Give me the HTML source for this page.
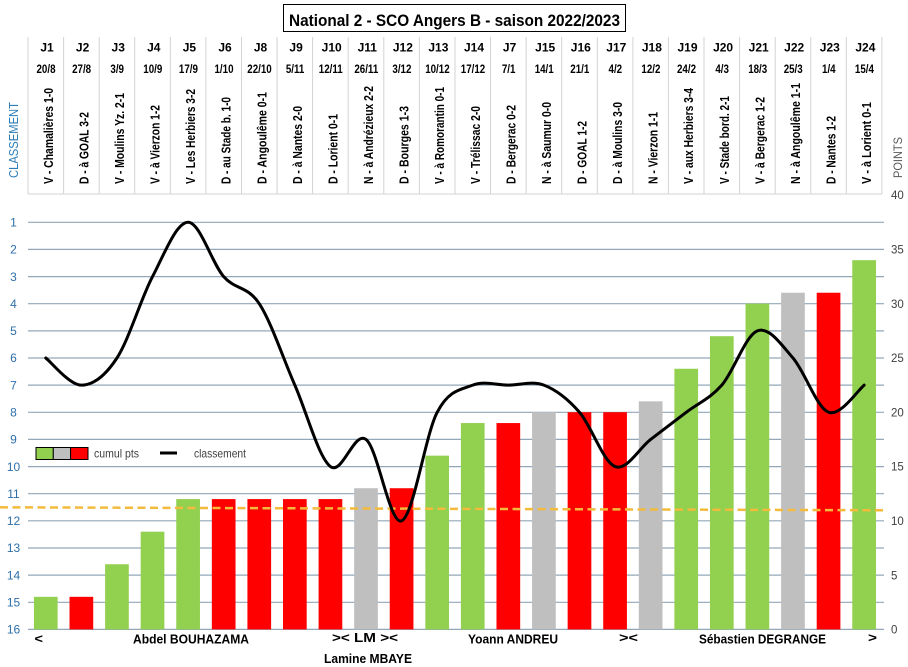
<!DOCTYPE html>
<html><head><meta charset="utf-8"><style>
html,body{margin:0;padding:0;background:#fff;}
svg{display:block;}
text{font-family:"Liberation Sans",sans-serif;}
</style></head><body>
<svg width="908" height="667" viewBox="0 0 908 667" xmlns="http://www.w3.org/2000/svg">
<rect width="908" height="667" fill="#fff"/>
<!-- title -->
<rect x="283.5" y="4.5" width="342" height="27" fill="#fff" stroke="#000" stroke-width="1"/>
<text x="289" y="26" font-size="16.5" font-weight="bold" textLength="331" lengthAdjust="spacingAndGlyphs">National 2 - SCO Angers B - saison 2022/2023</text>

<!-- header table lines -->
<g stroke="#D3D3D3" stroke-width="1">
<line x1="28" y1="37" x2="28" y2="194"/><line x1="63.6" y1="37" x2="63.6" y2="194"/><line x1="99.2" y1="37" x2="99.2" y2="194"/><line x1="134.7" y1="37" x2="134.7" y2="194"/><line x1="170.3" y1="37" x2="170.3" y2="194"/><line x1="205.9" y1="37" x2="205.9" y2="194"/><line x1="241.5" y1="37" x2="241.5" y2="194"/><line x1="277.1" y1="37" x2="277.1" y2="194"/><line x1="312.6" y1="37" x2="312.6" y2="194"/><line x1="348.2" y1="37" x2="348.2" y2="194"/><line x1="383.8" y1="37" x2="383.8" y2="194"/><line x1="419.4" y1="37" x2="419.4" y2="194"/><line x1="455" y1="37" x2="455" y2="194"/><line x1="490.5" y1="37" x2="490.5" y2="194"/><line x1="526.1" y1="37" x2="526.1" y2="194"/><line x1="561.7" y1="37" x2="561.7" y2="194"/><line x1="597.3" y1="37" x2="597.3" y2="194"/><line x1="632.9" y1="37" x2="632.9" y2="194"/><line x1="668.4" y1="37" x2="668.4" y2="194"/><line x1="704" y1="37" x2="704" y2="194"/><line x1="739.6" y1="37" x2="739.6" y2="194"/><line x1="775.2" y1="37" x2="775.2" y2="194"/><line x1="810.8" y1="37" x2="810.8" y2="194"/><line x1="846.3" y1="37" x2="846.3" y2="194"/><line x1="881.9" y1="37" x2="881.9" y2="194"/>
<line x1="28" y1="194" x2="882" y2="194"/>
</g>

<!-- header J labels -->
<g font-size="12" font-weight="bold" fill="#000" text-anchor="middle">
<text x="47" y="51.5">J1</text><text x="82.6" y="51.5">J2</text><text x="118.2" y="51.5">J3</text><text x="153.8" y="51.5">J4</text><text x="189.4" y="51.5">J5</text><text x="225" y="51.5">J6</text><text x="260.5" y="51.5">J8</text><text x="296.1" y="51.5">J9</text><text x="331.7" y="51.5">J10</text><text x="367.3" y="51.5">J11</text><text x="402.9" y="51.5">J12</text><text x="438.4" y="51.5">J13</text><text x="474" y="51.5">J14</text><text x="509.6" y="51.5">J7</text><text x="545.2" y="51.5">J15</text><text x="580.8" y="51.5">J16</text><text x="616.3" y="51.5">J17</text><text x="651.9" y="51.5">J18</text><text x="687.5" y="51.5">J19</text><text x="723.1" y="51.5">J20</text><text x="758.7" y="51.5">J21</text><text x="794.2" y="51.5">J22</text><text x="829.8" y="51.5">J23</text><text x="865.4" y="51.5">J24</text>
</g>
<g font-size="11.5" font-weight="bold" fill="#000" text-anchor="middle">
<text transform="translate(46,73) scale(0.85,1)">20/8</text><text transform="translate(81.6,73) scale(0.85,1)">27/8</text><text transform="translate(117.2,73) scale(0.85,1)">3/9</text><text transform="translate(152.8,73) scale(0.85,1)">10/9</text><text transform="translate(188.4,73) scale(0.85,1)">17/9</text><text transform="translate(224,73) scale(0.85,1)">1/10</text><text transform="translate(259.5,73) scale(0.85,1)">22/10</text><text transform="translate(295.1,73) scale(0.85,1)">5/11</text><text transform="translate(330.7,73) scale(0.85,1)">12/11</text><text transform="translate(366.3,73) scale(0.85,1)">26/11</text><text transform="translate(401.9,73) scale(0.85,1)">3/12</text><text transform="translate(437.4,73) scale(0.85,1)">10/12</text><text transform="translate(473,73) scale(0.85,1)">17/12</text><text transform="translate(508.6,73) scale(0.85,1)">7/1</text><text transform="translate(544.2,73) scale(0.85,1)">14/1</text><text transform="translate(579.8,73) scale(0.85,1)">21/1</text><text transform="translate(615.3,73) scale(0.85,1)">4/2</text><text transform="translate(650.9,73) scale(0.85,1)">12/2</text><text transform="translate(686.5,73) scale(0.85,1)">24/2</text><text transform="translate(722.1,73) scale(0.85,1)">4/3</text><text transform="translate(757.7,73) scale(0.85,1)">18/3</text><text transform="translate(793.2,73) scale(0.85,1)">25/3</text><text transform="translate(828.8,73) scale(0.85,1)">1/4</text><text transform="translate(864.4,73) scale(0.85,1)">15/4</text>
</g>

<!-- rotated match labels -->
<g font-size="12.5" font-weight="bold" fill="#000">
<text transform="translate(52.8,184) rotate(-90)" textLength="96" lengthAdjust="spacingAndGlyphs">V - Chamalières 1-0</text>
<text transform="translate(88.4,184) rotate(-90)" textLength="72" lengthAdjust="spacingAndGlyphs">D - à GOAL 3-2</text>
<text transform="translate(124,184) rotate(-90)" textLength="91" lengthAdjust="spacingAndGlyphs">V - Moulins Yz. 2-1</text>
<text transform="translate(159.5,184) rotate(-90)" textLength="79" lengthAdjust="spacingAndGlyphs">V - à Vierzon 1-2</text>
<text transform="translate(195.1,184) rotate(-90)" textLength="95" lengthAdjust="spacingAndGlyphs">V - Les Herbiers 3-2</text>
<text transform="translate(230.7,184) rotate(-90)" textLength="87" lengthAdjust="spacingAndGlyphs">D - au Stade b. 1-0</text>
<text transform="translate(266.3,184) rotate(-90)" textLength="92" lengthAdjust="spacingAndGlyphs">D - Angoulême 0-1</text>
<text transform="translate(301.9,184) rotate(-90)" textLength="78" lengthAdjust="spacingAndGlyphs">D - à Nantes 2-0</text>
<text transform="translate(337.4,184) rotate(-90)" textLength="70" lengthAdjust="spacingAndGlyphs">D - Lorient 0-1</text>
<text transform="translate(373,184) rotate(-90)" textLength="98" lengthAdjust="spacingAndGlyphs">N - à Andrézieux 2-2</text>
<text transform="translate(408.6,184) rotate(-90)" textLength="78" lengthAdjust="spacingAndGlyphs">D - Bourges 1-3</text>
<text transform="translate(444.2,184) rotate(-90)" textLength="97" lengthAdjust="spacingAndGlyphs">V - à Romorantin 0-1</text>
<text transform="translate(479.8,184) rotate(-90)" textLength="78" lengthAdjust="spacingAndGlyphs">V - Trélissac 2-0</text>
<text transform="translate(515.3,184) rotate(-90)" textLength="79" lengthAdjust="spacingAndGlyphs">D - Bergerac 0-2</text>
<text transform="translate(550.9,184) rotate(-90)" textLength="82" lengthAdjust="spacingAndGlyphs">N - à Saumur 0-0</text>
<text transform="translate(586.5,184) rotate(-90)" textLength="63" lengthAdjust="spacingAndGlyphs">D - GOAL 1-2</text>
<text transform="translate(622.1,184) rotate(-90)" textLength="82" lengthAdjust="spacingAndGlyphs">D - à Moulins 3-0</text>
<text transform="translate(657.7,184) rotate(-90)" textLength="72" lengthAdjust="spacingAndGlyphs">N - Vierzon 1-1</text>
<text transform="translate(693.2,184) rotate(-90)" textLength="96" lengthAdjust="spacingAndGlyphs">V - aux Herbiers 3-4</text>
<text transform="translate(728.8,184) rotate(-90)" textLength="88" lengthAdjust="spacingAndGlyphs">V - Stade bord. 2-1</text>
<text transform="translate(764.4,184) rotate(-90)" textLength="87" lengthAdjust="spacingAndGlyphs">V - à Bergerac 1-2</text>
<text transform="translate(800,184) rotate(-90)" textLength="101" lengthAdjust="spacingAndGlyphs">N - à Angoulême 1-1</text>
<text transform="translate(835.6,184) rotate(-90)" textLength="68" lengthAdjust="spacingAndGlyphs">D - Nantes 1-2</text>
<text transform="translate(871.1,184) rotate(-90)" textLength="82" lengthAdjust="spacingAndGlyphs">V - à Lorient 0-1</text>
</g>

<!-- axis titles -->
<text transform="translate(18,178) rotate(-90)" font-size="13" fill="#2F7EB8" textLength="76" lengthAdjust="spacingAndGlyphs">CLASSEMENT</text>
<text transform="translate(902,178) rotate(-90)" font-size="11.5" fill="#595959" textLength="41" lengthAdjust="spacingAndGlyphs">POINTS</text>

<!-- gridlines -->
<g stroke="#93A7B9" stroke-width="1.2">
<line x1="28" y1="222.3" x2="884" y2="222.3"/><line x1="28" y1="249.4" x2="884" y2="249.4"/><line x1="28" y1="276.6" x2="884" y2="276.6"/><line x1="28" y1="303.7" x2="884" y2="303.7"/><line x1="28" y1="330.9" x2="884" y2="330.9"/><line x1="28" y1="358" x2="884" y2="358"/><line x1="28" y1="385.1" x2="884" y2="385.1"/><line x1="28" y1="412.3" x2="884" y2="412.3"/><line x1="28" y1="439.4" x2="884" y2="439.4"/><line x1="28" y1="466.6" x2="884" y2="466.6"/><line x1="28" y1="493.7" x2="884" y2="493.7"/><line x1="28" y1="520.8" x2="884" y2="520.8"/><line x1="28" y1="548" x2="884" y2="548"/><line x1="28" y1="575.1" x2="884" y2="575.1"/><line x1="28" y1="602.3" x2="884" y2="602.3"/><line x1="28" y1="629.4" x2="884" y2="629.4"/>
</g>

<!-- rank labels -->
<g font-size="12" fill="#2E6FAA" text-anchor="middle">
<text x="13.5" y="226.5">1</text><text x="13.5" y="253.6">2</text><text x="13.5" y="280.8">3</text><text x="13.5" y="307.9">4</text><text x="13.5" y="335.1">5</text><text x="13.5" y="362.2">6</text><text x="13.5" y="389.3">7</text><text x="13.5" y="416.5">8</text><text x="13.5" y="443.6">9</text><text x="13.5" y="470.8">10</text><text x="13.5" y="497.9">11</text><text x="13.5" y="525">12</text><text x="13.5" y="552.2">13</text><text x="13.5" y="579.3">14</text><text x="13.5" y="606.5">15</text><text x="13.5" y="633.6">16</text>
</g>

<!-- points labels -->
<g font-size="11.5" fill="#404040">
<text x="891" y="199.2">40</text><text x="891" y="253.5">35</text><text x="891" y="307.8">30</text><text x="891" y="362.1">25</text><text x="891" y="416.4">20</text><text x="891" y="470.7">15</text><text x="891" y="525">10</text><text x="891" y="579.3">5</text><text x="891" y="633.6">0</text>
</g>

<!-- bars -->
<g>
<rect x="33.94" y="596.82" width="23.7" height="32.58" fill="#92D050"/>
<rect x="69.52" y="596.82" width="23.7" height="32.58" fill="#FF0000"/>
<rect x="105.1" y="564.24" width="23.7" height="65.16" fill="#92D050"/>
<rect x="140.68" y="531.66" width="23.7" height="97.74" fill="#92D050"/>
<rect x="176.26" y="499.08" width="23.7" height="130.32" fill="#92D050"/>
<rect x="211.84" y="499.08" width="23.7" height="130.32" fill="#FF0000"/>
<rect x="247.42" y="499.08" width="23.7" height="130.32" fill="#FF0000"/>
<rect x="283" y="499.08" width="23.7" height="130.32" fill="#FF0000"/>
<rect x="318.58" y="499.08" width="23.7" height="130.32" fill="#FF0000"/>
<rect x="354.16" y="488.22" width="23.7" height="141.18" fill="#BFBFBF"/>
<rect x="389.74" y="488.22" width="23.7" height="141.18" fill="#FF0000"/>
<rect x="425.32" y="455.64" width="23.7" height="173.76" fill="#92D050"/>
<rect x="460.9" y="423.06" width="23.7" height="206.34" fill="#92D050"/>
<rect x="496.48" y="423.06" width="23.7" height="206.34" fill="#FF0000"/>
<rect x="532.06" y="412.2" width="23.7" height="217.2" fill="#BFBFBF"/>
<rect x="567.64" y="412.2" width="23.7" height="217.2" fill="#FF0000"/>
<rect x="603.22" y="412.2" width="23.7" height="217.2" fill="#FF0000"/>
<rect x="638.8" y="401.34" width="23.7" height="228.06" fill="#BFBFBF"/>
<rect x="674.38" y="368.76" width="23.7" height="260.64" fill="#92D050"/>
<rect x="709.96" y="336.18" width="23.7" height="293.22" fill="#92D050"/>
<rect x="745.54" y="303.6" width="23.7" height="325.8" fill="#92D050"/>
<rect x="781.12" y="292.74" width="23.7" height="336.66" fill="#BFBFBF"/>
<rect x="816.7" y="292.74" width="23.7" height="336.66" fill="#FF0000"/>
<rect x="852.28" y="260.16" width="23.7" height="369.24" fill="#92D050"/>
</g>

<!-- dashed yellow line -->
<line x1="0" y1="507.3" x2="885" y2="510.3" stroke="#F4BA3C" stroke-width="2.5" stroke-dasharray="8 4.5"/>

<!-- classement smooth line -->
<path fill="none" stroke="#000" stroke-width="3" stroke-linejoin="round" stroke-linecap="round" d="M45.79 358 C51.72 362.52 69.51 385.14 81.37 385.14 C93.23 385.14 105.09 376.09 116.95 358 C128.81 339.91 140.67 299.2 152.53 276.58 C164.39 253.96 176.25 222.3 188.11 222.3 C199.97 222.3 211.83 263.01 223.69 276.58 C235.55 290.15 247.41 285.63 259.27 303.72 C271.13 321.81 282.99 358 294.85 385.14 C306.71 412.28 318.57 457.51 330.43 466.56 C342.29 475.61 354.15 430.37 366.01 439.42 C377.87 448.47 389.73 525.36 401.59 520.84 C413.45 516.32 425.31 434.9 437.17 412.28 C449.03 389.66 460.89 389.66 472.75 385.14 C484.61 380.62 496.47 385.14 508.33 385.14 C520.19 385.14 532.05 380.62 543.91 385.14 C555.77 389.66 567.63 398.71 579.49 412.28 C591.35 425.85 603.21 462.04 615.07 466.56 C626.93 471.08 638.79 448.47 650.65 439.42 C662.51 430.37 674.37 421.33 686.23 412.28 C698.09 403.23 709.95 398.71 721.81 385.14 C733.67 371.57 745.53 335.38 757.39 330.86 C769.25 326.34 781.11 344.43 792.97 358 C804.83 371.57 816.69 407.76 828.55 412.28 C840.41 416.8 858.2 389.66 864.13 385.14"/>

<!-- legend -->
<rect x="36" y="447.5" width="17.3" height="12" fill="#92D050" stroke="#000" stroke-width="1"/>
<rect x="53.3" y="447.5" width="17.3" height="12" fill="#BFBFBF" stroke="#000" stroke-width="1"/>
<rect x="70.6" y="447.5" width="17.4" height="12" fill="#FF0000" stroke="#000" stroke-width="1"/>
<text x="94" y="457.5" font-size="12" fill="#404040" textLength="45" lengthAdjust="spacingAndGlyphs">cumul pts</text>
<line x1="160" y1="453" x2="177" y2="453" stroke="#000" stroke-width="3"/>
<text x="194" y="457.5" font-size="12" fill="#404040" textLength="52" lengthAdjust="spacingAndGlyphs">classement</text>

<!-- bottom labels -->
<g font-size="12.5" font-weight="bold" fill="#000">
<text x="34.5" y="643" textLength="8.5" lengthAdjust="spacingAndGlyphs">&lt;</text>
<text x="133" y="643.5" textLength="116" lengthAdjust="spacingAndGlyphs">Abdel BOUHAZAMA</text>
<text x="332" y="642" textLength="66" lengthAdjust="spacingAndGlyphs">&gt;&lt; LM &gt;&lt;</text>
<text x="468" y="643.5" textLength="90" lengthAdjust="spacingAndGlyphs">Yoann ANDREU</text>
<text x="324" y="663" textLength="88" lengthAdjust="spacingAndGlyphs">Lamine MBAYE</text>
<text x="619" y="642" textLength="19" lengthAdjust="spacingAndGlyphs">&gt;&lt;</text>
<text x="699" y="643.5" textLength="127" lengthAdjust="spacingAndGlyphs">Sébastien DEGRANGE</text>
<text x="868" y="642" textLength="9" lengthAdjust="spacingAndGlyphs">&gt;</text>
</g>
</svg>
</body></html>
